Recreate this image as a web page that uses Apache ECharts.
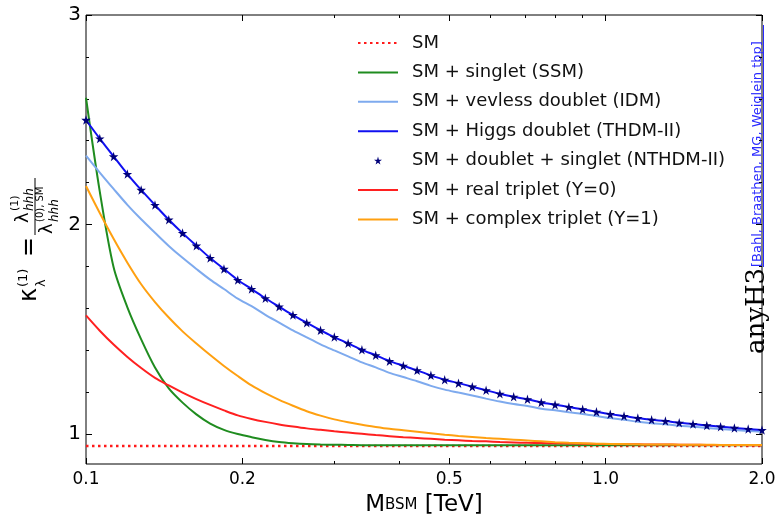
<!DOCTYPE html>
<html>
<head>
<meta charset="utf-8">
<title>kappa_lambda vs M_BSM</title>
<script src="https://cdn.jsdelivr.net/npm/echarts@6.0.0/dist/echarts.min.js"></script>
<style>
  html, body { margin: 0; padding: 0; background: #fff; }
  #chart { width: 777px; height: 517px; }
</style>
</head>
<body>
<div id="chart"></div>
<script>
// BSM mass grid (TeV), 50 points log-spaced from 0.1 to 2.0
var massTeV = [
  0.10000, 0.10630, 0.11301, 0.12013, 0.12770, 0.13576, 0.14432, 0.15341, 0.16309, 0.17337,
  0.18430, 0.19592, 0.20827, 0.22140, 0.23536, 0.25020, 0.26597, 0.28274, 0.30056, 0.31951,
  0.33966, 0.36107, 0.38384, 0.40803, 0.43376, 0.46111, 0.49018, 0.52108, 0.55393, 0.58886,
  0.62598, 0.66544, 0.70740, 0.75199, 0.79940, 0.84978, 0.90335, 0.96031, 1.02084, 1.08520,
  1.15361, 1.22634, 1.30365, 1.38584, 1.47321, 1.56609, 1.66482, 1.76978, 1.88135, 2.00000
];

// SM reference (flat)
var smMass = [0.1, 2.0];
var smValues = [0.943, 0.943];

var ssmValues = [
  2.605, 2.157, 1.796, 1.605, 1.452, 1.318, 1.218, 1.150, 1.094, 1.050,
  1.020, 1.000, 0.985, 0.972, 0.962, 0.956, 0.952, 0.950, 0.949, 0.948,
  0.947, 0.947, 0.947, 0.947, 0.947, 0.947, 0.947, 0.947, 0.947, 0.947,
  0.947, 0.947, 0.947, 0.947, 0.947, 0.946, 0.946, 0.946, 0.946, 0.946,
  0.946, 0.946, 0.946, 0.946, 0.946, 0.946, 0.946, 0.946, 0.946, 0.946
];

var idmValues = [
  2.329, 2.248, 2.170, 2.094, 2.025, 1.961, 1.898, 1.841, 1.788, 1.737,
  1.692, 1.646, 1.610, 1.569, 1.532, 1.495, 1.461, 1.428, 1.399, 1.371,
  1.342, 1.318, 1.292, 1.272, 1.252, 1.230, 1.212, 1.198, 1.184, 1.169,
  1.155, 1.143, 1.134, 1.121, 1.113, 1.104, 1.096, 1.086, 1.076, 1.068,
  1.059, 1.052, 1.047, 1.040, 1.035, 1.029, 1.024, 1.019, 1.015, 1.011
];

var thdmValues = [
  2.499, 2.410, 2.325, 2.241, 2.165, 2.093, 2.023, 1.959, 1.899, 1.840,
  1.788, 1.735, 1.692, 1.648, 1.608, 1.568, 1.531, 1.495, 1.463, 1.433,
  1.402, 1.376, 1.348, 1.326, 1.304, 1.280, 1.259, 1.243, 1.226, 1.209,
  1.192, 1.178, 1.166, 1.151, 1.140, 1.129, 1.118, 1.106, 1.095, 1.086,
  1.076, 1.068, 1.062, 1.054, 1.048, 1.041, 1.035, 1.029, 1.024, 1.019
];

// stars sit right on top of the THDM line
var nthdmValues = [
  2.499, 2.410, 2.325, 2.241, 2.165, 2.093, 2.023, 1.959, 1.899, 1.840,
  1.788, 1.735, 1.692, 1.648, 1.608, 1.568, 1.531, 1.495, 1.463, 1.433,
  1.402, 1.376, 1.348, 1.326, 1.304, 1.280, 1.259, 1.243, 1.226, 1.209,
  1.192, 1.178, 1.166, 1.151, 1.140, 1.129, 1.118, 1.106, 1.095, 1.086,
  1.076, 1.068, 1.062, 1.054, 1.048, 1.041, 1.035, 1.029, 1.024, 1.019
];

var realTripletValues = [
  1.566, 1.493, 1.427, 1.368, 1.315, 1.268, 1.232, 1.198, 1.167, 1.139,
  1.113, 1.089, 1.072, 1.058, 1.046, 1.036, 1.027, 1.020, 1.013, 1.007,
  1.001, 0.995, 0.990, 0.985, 0.981, 0.977, 0.973, 0.970, 0.967, 0.965,
  0.962, 0.960, 0.958, 0.957, 0.956, 0.955, 0.954, 0.953, 0.952, 0.951,
  0.951, 0.950, 0.950, 0.949, 0.949, 0.948, 0.948, 0.948, 0.947, 0.947
];

var complexTripletValues = [
  2.184, 2.055, 1.932, 1.818, 1.715, 1.630, 1.556, 1.490, 1.432, 1.377,
  1.325, 1.277, 1.232, 1.195, 1.163, 1.135, 1.109, 1.088, 1.070, 1.056,
  1.044, 1.034, 1.025, 1.018, 1.011, 1.004, 0.997, 0.991, 0.986, 0.981,
  0.977, 0.973, 0.969, 0.965, 0.961, 0.958, 0.956, 0.954, 0.953, 0.952,
  0.951, 0.950, 0.950, 0.949, 0.949, 0.949, 0.948, 0.948, 0.948, 0.948
];

var seriesNames = [
  'SM',
  'SM + singlet (SSM)',
  'SM + vevless doublet (IDM)',
  'SM + Higgs doublet (THDM-II)',
  'SM + doublet + singlet (NTHDM-II)',
  'SM + real triplet (Y=0)',
  'SM + complex triplet (Y=1)'
];

var xMajorTicks = [0.1, 0.2, 0.5, 1.0, 2.0];
var xMinorTicks = [0.3, 0.4, 0.6, 0.7, 0.8, 0.9];
var yMajorTicks = [1, 2, 3];
var yMinorTicks = [1.2, 1.4, 1.6, 1.8, 2.2, 2.4, 2.6, 2.8];

var FONT = 'DejaVu Sans';
var STAR = 'path://M50,0 L61,35 L98,35 L68,57 L79,91 L50,70 L21,91 L32,57 L2,35 L39,35 Z';

function pairs(xs, ys) {
  return xs.map(function (x, i) { return [x, ys[i]]; });
}

function xAx(pos, ticks, len, withLabels) {
  return {
    type: 'log', logBase: 10, min: 0.1, max: 2.0, position: pos,
    axisLine: { show: false },
    splitLine: { show: false },
    axisTick: { show: true, inside: true, length: len, customValues: ticks,
      lineStyle: { color: '#000', width: 1 } },
    axisLabel: { show: withLabels, customValues: ticks, margin: 7,
      fontFamily: FONT, fontSize: 17, color: '#000',
      formatter: function (v) { return (+v).toFixed(1); } }
  };
}

function yAx(pos, ticks, len, withLabels) {
  return {
    type: 'value', min: 0.857, max: 3, position: pos,
    axisLine: { show: false },
    splitLine: { show: false },
    axisTick: { show: true, inside: true, length: len, customValues: ticks,
      lineStyle: { color: '#000', width: 1 } },
    axisLabel: { show: withLabels, customValues: ticks, margin: 5,
      fontFamily: FONT, fontSize: 20, color: '#000' }
  };
}

function curve(name, ys, color) {
  return {
    name: name, type: 'line', symbol: 'none', smooth: 0.3,
    data: pairs(massTeV, ys),
    lineStyle: { color: color, width: 2 }, itemStyle: { color: color }
  };
}

var chart = echarts.init(document.getElementById('chart'));

var xAxes = [
  xAx('bottom', xMajorTicks, 6, true),
  xAx('bottom', xMinorTicks, 3, false),
  xAx('top', xMajorTicks, 6, false),
  xAx('top', xMinorTicks, 3, false)
];
xAxes[0].name = '{m|M}{s|BSM}{m| [TeV]}';
xAxes[0].nameLocation = 'middle';
xAxes[0].nameGap = 30;
xAxes[0].nameTextStyle = {
  rich: {
    m: { fontFamily: FONT, fontSize: 23, color: '#000' },
    s: { fontFamily: FONT, fontSize: 15, color: '#000' }
  }
};

// legend entries: hide the default circle on line samples, keep the star
var legendData = seriesNames.map(function (n, i) {
  return i === 4 ? { name: n } : { name: n, itemStyle: { opacity: 0 } };
});

var option = {
  animation: false,
  backgroundColor: '#fff',
  grid: { left: 86, right: 15, top: 15, bottom: 53, show: true,
    outerBoundsMode: 'none',
    borderColor: '#000', borderWidth: 1, backgroundColor: 'transparent' },
  legend: {
    orient: 'vertical', left: 352, top: 28,
    itemWidth: 40, itemHeight: 10, itemGap: 9.4,
    textStyle: { fontFamily: FONT, fontSize: 18, color: '#111', lineHeight: 20,
      padding: [0, 0, 0, 9] },
    data: legendData
  },
  xAxis: xAxes,
  yAxis: [
    yAx('left', yMajorTicks, 6, true),
    yAx('left', yMinorTicks, 3, false),
    yAx('right', yMajorTicks, 6, false),
    yAx('right', yMinorTicks, 3, false)
  ],
  series: [
    { name: seriesNames[0], type: 'line', symbol: 'none', data: pairs(smMass, smValues),
      lineStyle: { color: '#ff1a1a', width: 2.5, type: [2.5, 3.5] }, itemStyle: { color: '#ff1a1a' } },
    curve(seriesNames[1], ssmValues, '#1f8c1f'),
    curve(seriesNames[2], idmValues, '#7eaaee'),
    curve(seriesNames[3], thdmValues, '#1010f0'),
    { name: seriesNames[4], type: 'line', symbol: STAR, symbolSize: 9.5, showSymbol: true,
      data: pairs(massTeV, nthdmValues),
      lineStyle: { width: 0, opacity: 0 }, itemStyle: { color: '#00007a' } },
    curve(seriesNames[5], realTripletValues, '#ff2020'),
    curve(seriesNames[6], complexTripletValues, '#ffa010')
  ],
  graphic: [
    // y axis label, rotated
    {
      type: 'group', x: 42, y: 302, rotation: Math.PI / 2, silent: true,
      children: [
        { type: 'text', x: 0, y: 0, style: { text: 'κ', font: '24px ' + FONT, fill: '#000', textVerticalAlign: 'bottom', verticalAlign: 'bottom' } },
        { type: 'text', x: 15, y: -12, style: { text: '(1)', font: '13px ' + FONT, fill: '#000', textVerticalAlign: 'bottom', verticalAlign: 'bottom' } },
        { type: 'text', x: 15, y: 6, style: { text: 'λ', font: '13px ' + FONT, fill: '#000', textVerticalAlign: 'bottom', verticalAlign: 'bottom' } },
        { type: 'text', x: 45, y: 0, style: { text: '=', font: '24px ' + FONT, fill: '#000', textVerticalAlign: 'bottom', verticalAlign: 'bottom' } },
        { type: 'line', shape: { x1: 67, y1: -7, x2: 124, y2: -7 }, style: { stroke: '#000', lineWidth: 1 } },
        { type: 'text', x: 79, y: -10, style: { text: 'λ', font: '18px ' + FONT, fill: '#000', textVerticalAlign: 'bottom', verticalAlign: 'bottom' } },
        { type: 'text', x: 91, y: -21, style: { text: '(1)', font: '11px ' + FONT, fill: '#000', textVerticalAlign: 'bottom', verticalAlign: 'bottom' } },
        { type: 'text', x: 91, y: -6, style: { text: 'hhh', font: 'italic 12px ' + FONT, fill: '#000', textVerticalAlign: 'bottom', verticalAlign: 'bottom' } },
        { type: 'text', x: 68, y: 14, style: { text: 'λ', font: '18px ' + FONT, fill: '#000', textVerticalAlign: 'bottom', verticalAlign: 'bottom' } },
        { type: 'text', x: 80, y: 3, style: { text: '(0), SM', font: '10px ' + FONT, fill: '#000', textVerticalAlign: 'bottom', verticalAlign: 'bottom' } },
        { type: 'text', x: 80, y: 19, style: { text: 'hhh', font: 'italic 12px ' + FONT, fill: '#000', textVerticalAlign: 'bottom', verticalAlign: 'bottom' } }
      ]
    },
    // anyH3 stamp on the right spine
    {
      type: 'group', x: 763, y: 267, rotation: Math.PI / 2, silent: true,
      children: [
        { type: 'text', x: -87, y: 7, style: { text: 'anyH3', font: '26px "DejaVu Serif"', fill: '#000', textVerticalAlign: 'bottom', verticalAlign: 'bottom' } },
        { type: 'text', x: 0, y: 1, style: { text: '[Bahl, Braathen, MG, Weiglein tbp]', font: '13px ' + FONT, fill: '#2a2aff', textVerticalAlign: 'bottom', verticalAlign: 'bottom' } },
        { type: 'line', shape: { x1: 0, y1: 0.5, x2: 242, y2: 0.5 }, style: { stroke: '#2a2aff', lineWidth: 1 } }
      ]
    }
  ]
};

chart.setOption(option);
</script>
</body>
</html>
